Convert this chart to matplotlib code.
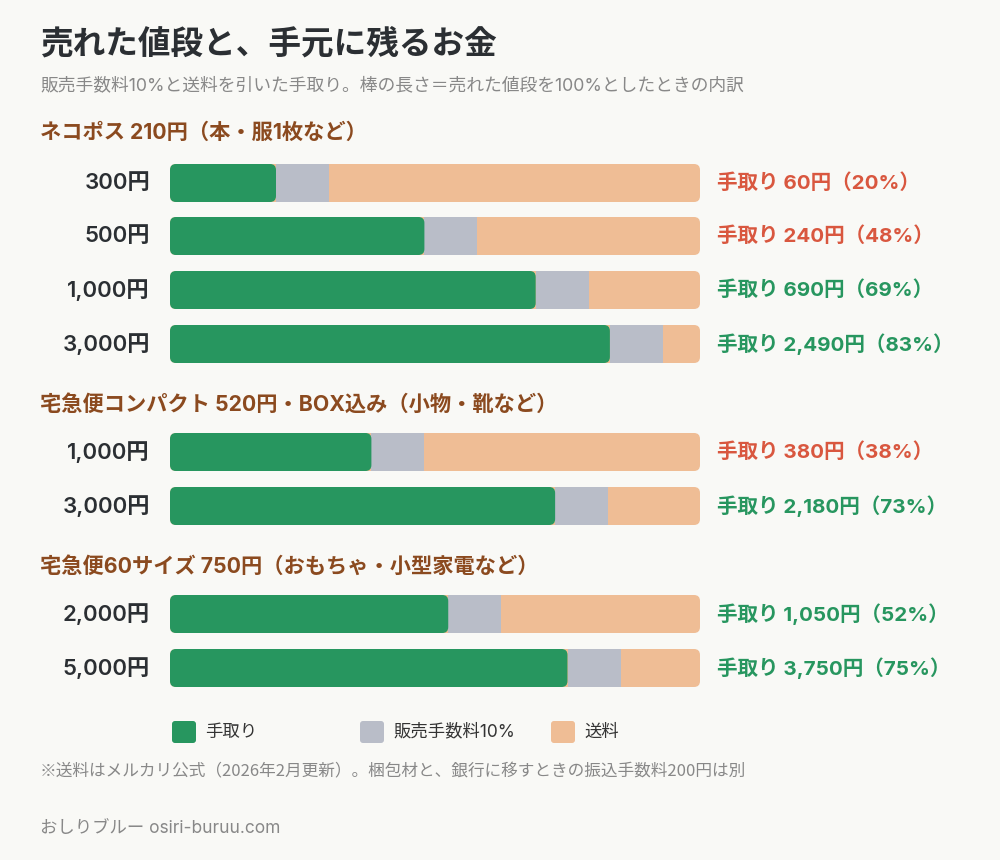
import matplotlib
matplotlib.use("Agg")
import matplotlib.pyplot as plt
from matplotlib.patches import FancyBboxPatch, Rectangle

plt.rcParams['font.family'] = ['Inter', 'Noto Sans CJK JP', 'DejaVu Sans']

groups = ["ネコポス 210円（本・服1枚など）",
          "宅急便コンパクト 520円・BOX込み（小物・靴など）",
          "宅急便60サイズ 750円（おもちゃ・小型家電など）"]
shipping = [210, 520, 750]
prices = [[300, 500, 1000, 3000], [1000, 3000], [2000, 5000]]
fee_rate = 10

BG = "#f9f9f6"
GREEN = "#27965f"
GRAY = "#b9bdc8"
ORANGE = "#efbd95"
RED = "#d9573f"
BROWN = "#8b4a1f"

fig = plt.figure(figsize=(10, 8.6), dpi=100, facecolor=BG)
ax = fig.add_axes([0.17, 0, 0.53, 1])
ax.set_xlim(0, 100)
ax.set_ylim(860, 0)
ax.axis('off')
px = 100 / 530.0
def X(p):
    return (p - 170) * px

fig.text(0.04, 1 - 45/860, "売れた値段と、手元に残るお金", fontsize=23.5, fontweight='bold',
         color="#2b2f33", va='center')
fig.text(0.04, 1 - 86/860, "販売手数料10%と送料を引いた手取り。棒の長さ＝売れた値段を100%としたときの内訳",
         fontsize=12.8, color="#888888", va='center')

head_y = [133, 404, 566]
row_y = [[183, 236, 290, 344], [452, 506], [614, 668]]
bh = 38
rs = 6 * px
asp = 1 / px

def fmt(n):
    return f"{n:,}"

for g, name in enumerate(groups):
    ax.text(X(40), head_y[g], name, fontsize=15.3, fontweight='bold', color=BROWN,
            va='center', ha='left', clip_on=False)
    for price, y in zip(prices[g], row_y[g]):
        fee = price * fee_rate / 100
        take = price - fee - shipping[g]
        tp = take / price * 100
        y0 = y - bh / 2
        full = FancyBboxPatch((0, y0), 100, bh, boxstyle=f"round,pad=0,rounding_size={rs}",
                              mutation_aspect=asp, fc=ORANGE, ec='none')
        ax.add_patch(full)
        gr = Rectangle((tp, y0), fee_rate, bh, fc=GRAY, ec='none')
        ax.add_patch(gr)
        gr.set_clip_path(full)
        ax.add_patch(FancyBboxPatch((0, y0), tp, bh, boxstyle=f"round,pad=0,rounding_size={rs}",
                                    mutation_aspect=asp, fc=GREEN, ec='none'))
        ax.text(X(150), y, f"{fmt(price)}円", fontsize=16, color="#2b2f33", ha='right',
                va='center', fontweight='semibold', clip_on=False)
        pct = round(tp)
        col = GREEN if pct >= 50 else RED
        ax.text(X(717), y, f"手取り {fmt(int(take))}円（{pct}%）", fontsize=14.8, color=col,
                ha='left', va='center', fontweight='bold', clip_on=False)

legend = [("手取り", GREEN, 172), ("販売手数料10%", GRAY, 360), ("送料", ORANGE, 551)]
for lab, c, xp in legend:
    ax.add_patch(FancyBboxPatch((X(xp), 721), 24 * px, 22, boxstyle=f"round,pad=0,rounding_size={3*px}",
                                mutation_aspect=asp, fc=c, ec='none', clip_on=False))
    ax.text(X(xp + 33), 732, lab, fontsize=12.5, color="#333333", va='center', clip_on=False)

fig.text(0.04, 1 - 772/860, "※送料はメルカリ公式（2026年2月更新）。梱包材と、銀行に移すときの振込手数料200円は別",
         fontsize=12, color="#888888", va='center', family=['Noto Sans CJK JP', 'DejaVu Sans'])
fig.text(0.04, 1 - 829/860, "おしりブルー osiri-buruu.com", fontsize=12.5, color="#888888", va='center')

fig.savefig("out.png", dpi=100, facecolor=BG)
